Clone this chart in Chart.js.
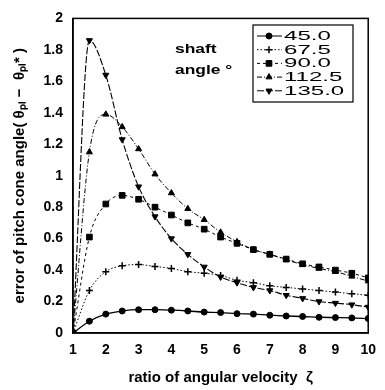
<!DOCTYPE html>
<html>
<head>
<meta charset="utf-8">
<script src="https://cdn.jsdelivr.net/npm/chart.js@4.4.0/dist/chart.umd.min.js"></script>
<style>
    html, body { margin: 0; padding: 0; background: #fff; }
</style>
</head>
<body>
<canvas id="myChart" width="385" height="390"></canvas>
<script>
// Ratio of angular velocity (x positions of the markers)
const ratios = [1, 1.5, 2, 2.5, 3, 3.5, 4, 4.5, 5, 5.5, 6, 6.5, 7, 7.5, 8, 8.5, 9, 9.5, 10];

// Error of pitch cone angle for each shaft angle
const shaft45 = [0, 0.075, 0.12, 0.14, 0.148, 0.148, 0.145, 0.14, 0.133, 0.13, 0.123, 0.12, 0.113, 0.108, 0.105, 0.1, 0.098, 0.096, 0.092];
const shaft67 = [0, 0.27, 0.39, 0.427, 0.435, 0.423, 0.41, 0.39, 0.38, 0.366, 0.335, 0.32, 0.30, 0.29, 0.28, 0.27, 0.26, 0.25, 0.24];
const shaft90 = [0, 0.61, 0.82, 0.875, 0.85, 0.80, 0.75, 0.70, 0.66, 0.61, 0.57, 0.53, 0.50, 0.47, 0.44, 0.42, 0.40, 0.38, 0.35];
const shaft112 = [0, 1.15, 1.39, 1.31, 1.17, 1.01, 0.89, 0.79, 0.72, 0.64, 0.58, 0.53, 0.50, 0.465, 0.435, 0.41, 0.39, 0.36, 0.33];
const shaft135 = [0, 1.86, 1.64, 1.23, 0.93, 0.74, 0.60, 0.50, 0.42, 0.356, 0.32, 0.29, 0.27, 0.24, 0.22, 0.20, 0.19, 0.18, 0.165];

// Labels
const seriesLabels = ['45.0', '67.5', '90.0', '112.5', '135.0'];
const legendTitle = ['shaft', 'angle °'];
const xTitle = 'ratio of angular velocity  ζ';
const yTitle = 'error of pitch cone angle( θₚₗ −  θₚₗ* )';

const FONT = '"Liberation Sans", Arial, sans-serif';

function toPoints(values) {
    return values.map((v, i) => ({ x: ratios[i], y: v }));
}

// Frame, legend box and "shaft angle" text drawn on top
const decorations = {
    id: 'decorations',
    afterDraw(chart) {
        const ctx = chart.ctx;
        const area = chart.chartArea;
        ctx.save();

        // plot frame
        ctx.strokeStyle = '#000';
        ctx.lineWidth = 1.5;
        ctx.strokeRect(area.left, area.top, area.right - area.left, area.bottom - area.top);

        // "shaft angle" text
        ctx.fillStyle = '#000';
        ctx.font = 'bold 12px ' + FONT;
        ctx.textBaseline = 'middle';
        ctx.textAlign = 'left';
        [50, 71].forEach((y, i) => {
            ctx.save();
            ctx.translate(175, y);
            ctx.scale(1.45, 1);
            ctx.fillText(legendTitle[i], 0, 0);
            ctx.restore();
        });

        // legend box
        ctx.fillStyle = '#fff';
        ctx.fillRect(253, 25, 100, 77);
        ctx.strokeStyle = '#000';
        ctx.lineWidth = 1.2;
        ctx.strokeRect(253, 25, 100, 77);

        chart.data.datasets.forEach((ds, i) => {
            const y = 36 + i * 13.7;
            ctx.strokeStyle = '#000';
            ctx.fillStyle = '#000';
            ctx.lineWidth = 1;
            ctx.setLineDash(ds.borderDash || []);
            ctx.beginPath();
            ctx.moveTo(257, y);
            ctx.lineTo(282, y);
            ctx.stroke();
            ctx.setLineDash([]);
            ctx.lineWidth = ds.pointBorderWidth || 1;
            Chart.helpers.drawPoint(ctx, {
                pointStyle: ds.pointStyle,
                radius: ds.pointRadius,
                rotation: ds.pointRotation || 0,
                borderWidth: ds.pointBorderWidth || 1
            }, 269, y);

            ctx.fillStyle = '#000';
            ctx.font = '13px ' + FONT;
            ctx.textBaseline = 'middle';
            ctx.save();
            ctx.translate(284, y + 0.5);
            ctx.scale(1.85, 1);
            ctx.fillText(ds.label, 0, 0);
            ctx.restore();
        });

        ctx.restore();
    }
};

const ctx = document.getElementById('myChart').getContext('2d');

const chart = new Chart(ctx, {
    type: 'line',
    data: {
        datasets: [
            {
                label: seriesLabels[0],
                data: toPoints(shaft45),
                borderColor: '#000',
                backgroundColor: '#000',
                borderWidth: 1.3,
                pointStyle: 'circle',
                pointRadius: 3,
                pointBorderWidth: 1
            },
            {
                label: seriesLabels[1],
                data: toPoints(shaft67),
                borderColor: '#000',
                backgroundColor: '#000',
                borderWidth: 1,
                borderDash: [1.5, 2],
                pointStyle: 'cross',
                pointRadius: 3.5,
                pointBorderWidth: 1.5
            },
            {
                label: seriesLabels[2],
                data: toPoints(shaft90),
                borderColor: '#000',
                backgroundColor: '#000',
                borderWidth: 1,
                borderDash: [3, 3],
                pointStyle: 'rect',
                pointRadius: 4,
                pointBorderWidth: 1
            },
            {
                label: seriesLabels[3],
                data: toPoints(shaft112),
                borderColor: '#000',
                backgroundColor: '#000',
                borderWidth: 1,
                borderDash: [5, 2, 1, 2],
                pointStyle: 'triangle',
                pointRadius: 3.5,
                pointBorderWidth: 1
            },
            {
                label: seriesLabels[4],
                data: toPoints(shaft135),
                borderColor: '#000',
                backgroundColor: '#000',
                borderWidth: 1.1,
                borderDash: [7, 2],
                pointStyle: 'triangle',
                pointRotation: 180,
                pointRadius: 3.5,
                pointBorderWidth: 1
            }
        ]
    },
    options: {
        responsive: false,
        animation: false,
        cubicInterpolationMode: 'monotone',
        layout: {
            padding: { top: 13, right: 10, left: 0, bottom: 0 }
        },
        scales: {
            x: {
                type: 'linear',
                min: 1,
                max: 10,
                ticks: {
                    stepSize: 1,
                    color: '#000',
                    padding: 9,
                    font: { family: FONT, size: 14, weight: 'bold' }
                },
                grid: { display: false, drawTicks: false },
                border: { display: true, color: '#000', width: 1.5 },
                title: {
                    display: true,
                    text: xTitle,
                    color: '#000',
                    padding: { top: 0, bottom: 3 },
                    font: { family: FONT, size: 15, weight: 'bold' }
                },
                afterFit(scale) {
                    scale.height = 57;
                }
            },
            y: {
                min: 0,
                max: 2,
                ticks: {
                    stepSize: 0.2,
                    color: '#000',
                    padding: 10,
                    font: { family: FONT, size: 14, weight: 'bold' },
                    callback: v => String(Math.round(v * 10) / 10)
                },
                grid: { display: false, drawTicks: false },
                border: { display: true, color: '#000', width: 1.5 },
                title: {
                    display: true,
                    text: yTitle,
                    color: '#000',
                    padding: { top: 11, bottom: 0 },
                    font: { family: FONT, size: 15, weight: 'bold' }
                },
                afterFit(scale) {
                    scale.width = 73;
                }
            }
        },
        plugins: {
            legend: { display: false },
            tooltip: { enabled: false }
        }
    },
    plugins: [decorations]
});
</script>
</body>
</html>
